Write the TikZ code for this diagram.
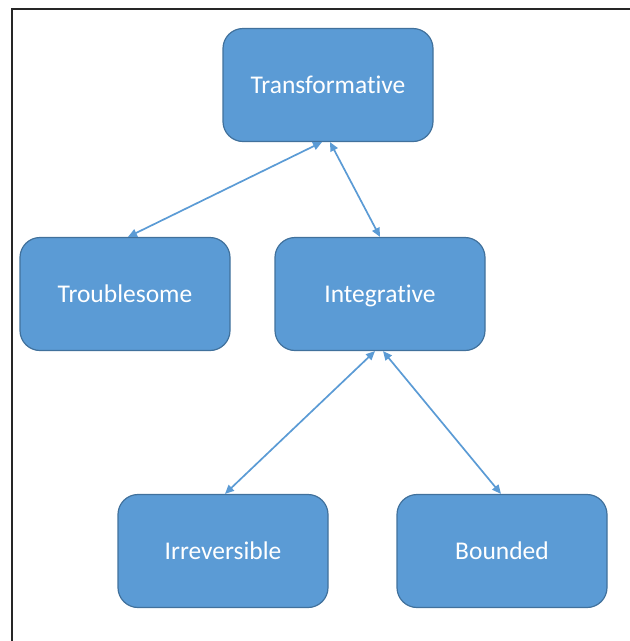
\documentclass[tikz,border=0pt]{standalone}
\usepackage{fontspec}
\setmainfont[Ligatures={NoCommon}]{Carlito}
\usetikzlibrary{arrows.meta,positioning}
\definecolor{conceptfill}{HTML}{5B9BD5}
\definecolor{conceptedge}{HTML}{41719C}
\tikzset{
  concept/.style={draw=conceptedge, line width=1.2pt, fill=conceptfill, rounded corners=20pt,
                  minimum height=113pt, minimum width=210pt, align=center,
                  text height=16.5pt, text depth=0pt,
                  text=white, font=\fontsize{25.5}{30}\selectfont},
  link/.style={{Triangle[length=9pt,width=8pt]}-{Triangle[length=9pt,width=8pt]},
               line width=1.7pt, draw=conceptfill},
  frame/.style={draw=black!85, line width=2.2pt},
}

\begin{document}
\begin{tikzpicture}[x=1pt,y=-1pt]
\useasboundingbox (0,0) rectangle (630,641);

\node[concept] (trans)  at (328,85)  {Transformative};
\node[concept] (troub)  at (125,294) {Troublesome};
\node[concept] (integ)  at (380,294) {Integrative};
\node[concept] (irrev)  at (223,551) {Irreversible};
\node[concept] (bound)  at (502,551) {Bounded};

\draw[link] ([xshift=-6pt]trans.south) -- ([xshift=3pt]troub.north);
\draw[link] ([xshift=2pt]trans.south) -- (integ.north);
\draw[link] ([xshift=-5pt]integ.south) -- ([xshift=2pt]irrev.north);
\draw[link] ([xshift=3pt]integ.south) -- ([xshift=-1pt]bound.north);

% cropped frame, only left and top edges show
\coordinate (fbl) at (12,641);
\coordinate (ftl) at (12,9);
\coordinate (ftr) at (630,9);
\draw[frame] (fbl) -- (ftl) -- (ftr);

\end{tikzpicture}
\end{document}
